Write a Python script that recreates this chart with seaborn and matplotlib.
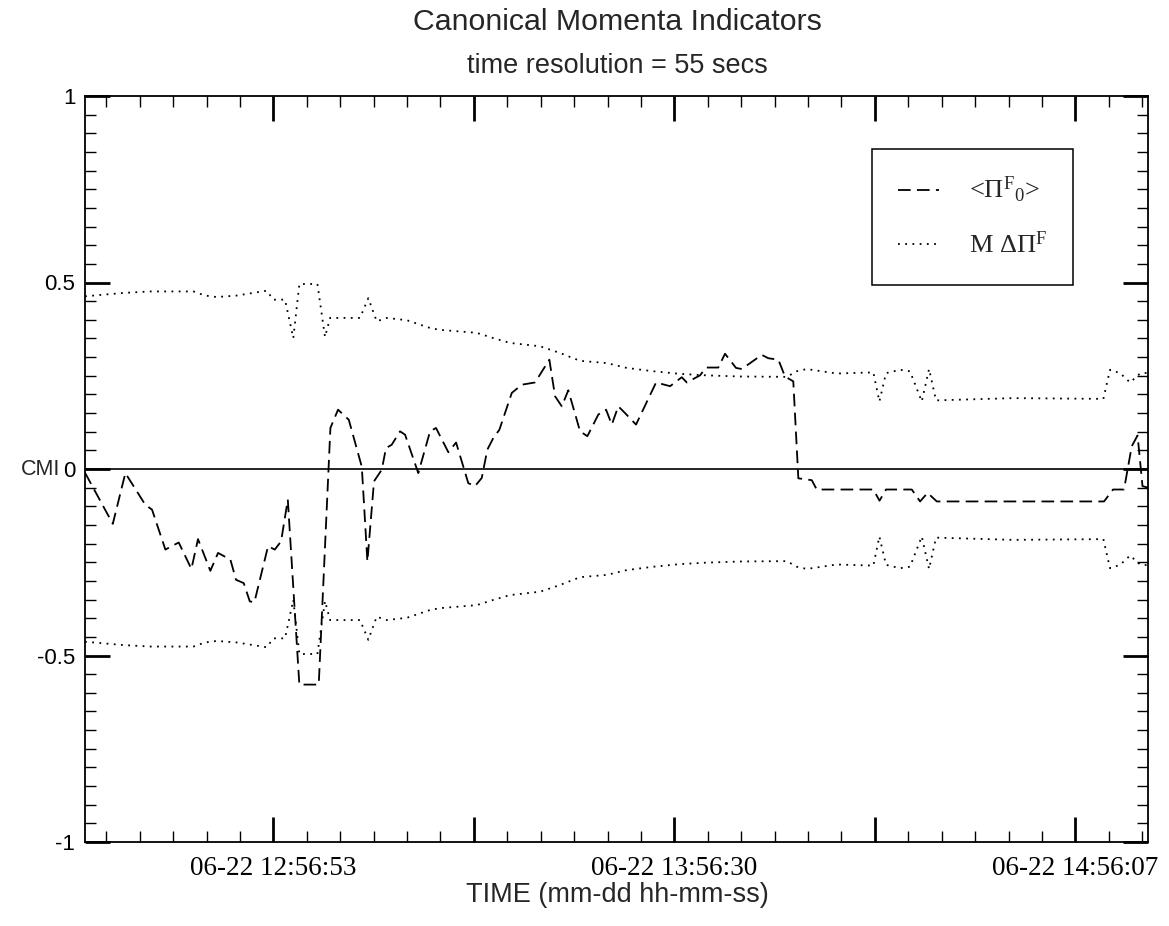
import numpy as np
import pandas as pd
import matplotlib
matplotlib.use("Agg")
import matplotlib.pyplot as plt
import seaborn as sns
from matplotlib.ticker import FixedLocator, FixedFormatter, MultipleLocator

# ---------------- data (time = seconds after 12:00:00 on 06-22) ----------------
cmi_t = [1733, 1981, 2093, 2271, 2331, 2450, 2569, 2682, 2741, 2851, 2920, 3030,
         3080, 3149, 3203, 3244, 3366, 3426, 3482, 3542, 3645, 3818, 3922, 3990,
         4086, 4202, 4252, 4311, 4380, 4418, 4469, 4543, 4588, 4706, 4811, 4864,
         4974, 5043, 5152, 5212, 5272, 5322, 5375, 5429, 5540, 5629, 5747, 5875,
         5926, 5986, 6044, 6149, 6214, 6312, 6381, 6432, 6490, 6550, 6648, 6827,
         6952, 7056, 7101, 7219, 7273, 7382, 7442, 7540, 7591, 7770, 7828, 7918,
         7977, 8051, 8096, 8216, 8260, 8765, 8820, 8878, 9108, 9182, 9249, 9331,
         10823, 10903, 11001, 11070, 11122, 11166, 11215]
cmi_v = [-0.010, -0.147, -0.011, -0.096, -0.109, -0.216, -0.197, -0.268, -0.188,
         -0.273, -0.225, -0.243, -0.297, -0.306, -0.355, -0.357, -0.207, -0.216,
         -0.194, -0.082, -0.578, -0.578, 0.110, 0.159, 0.132, 0.006, -0.248,
         -0.033, -0.002, 0.056, 0.065, 0.101, 0.092, -0.011, 0.101, 0.110, 0.045,
         0.071, -0.038, -0.046, -0.024, 0.052, 0.083, 0.105, 0.204, 0.226, 0.232,
         0.293, 0.195, 0.168, 0.211, 0.101, 0.088, 0.146, 0.159, 0.119, 0.168,
         0.150, 0.119, 0.232, 0.222, 0.246, 0.232, 0.251, 0.272, 0.272, 0.309,
         0.271, 0.268, 0.306, 0.297, 0.293, 0.248, 0.235, -0.025, -0.030, -0.055,
         -0.055, -0.085, -0.055, -0.055, -0.087, -0.064, -0.087, -0.087, -0.055,
         -0.055, 0.061, 0.090, -0.046, -0.050]

mdp_t = [1733, 2075, 2313, 2699, 2804, 2908, 3087, 3354, 3413, 3517, 3591, 3645,
         3806, 3874, 3919, 4186, 4260, 4335, 4425, 4603, 4811, 4900, 5227, 5375,
         5524, 5792, 5970, 6149, 6387, 6565, 6803, 7041, 7279, 7576, 7993, 8082,
         8171, 8439, 8765, 8819, 8878, 9003, 9092, 9197, 9262, 9324, 10011, 10817,
         10876, 10966, 11055, 11144, 11215]
mdp_v = [0.463, 0.472, 0.476, 0.476, 0.465, 0.461, 0.465, 0.478, 0.454, 0.454,
         0.351, 0.496, 0.496, 0.354, 0.405, 0.405, 0.458, 0.396, 0.405, 0.399,
         0.378, 0.373, 0.365, 0.351, 0.338, 0.329, 0.311, 0.290, 0.284, 0.271,
         0.262, 0.255, 0.251, 0.248, 0.247, 0.262, 0.268, 0.256, 0.259, 0.181,
         0.257, 0.266, 0.262, 0.181, 0.268, 0.184, 0.190, 0.188, 0.266, 0.257,
         0.232, 0.256, 0.258]

x_tick_times = [3413, 6990, 10567]
x_tick_labels = ["06-22 12:56:53", "06-22 13:56:30", "06-22 14:56:07"]
y_ticks = [-1, -0.5, 0, 0.5, 1]
y_tick_labels = ["-1", "-0.5", "0", "0.5", "1"]
legend_labels = [r"<$\Pi^{\mathrm{F}}{}_{0}$>", r"M $\Delta\Pi^{\mathrm{F}}$"]
title = "Canonical Momenta Indicators"
subtitle = "time resolution = 55 secs"
x_label = "TIME (mm-dd hh-mm-ss)"
y_label = "CMI"

# ---------------- style ----------------
sns.set_style("ticks")
plt.rcParams["font.family"] = ["Liberation Sans", "DejaVu Sans"]
plt.rcParams["mathtext.fontset"] = "custom"
plt.rcParams["mathtext.rm"] = "Liberation Serif"
plt.rcParams["mathtext.it"] = "Liberation Serif:italic"
plt.rcParams["mathtext.bf"] = "Liberation Serif:bold"

W, H = 1169, 926
fig = plt.figure(figsize=(W / 100, H / 100), dpi=100)
L, R, T, B = 85, 1148, 96, 842
ax = fig.add_axes([L / W, 1 - B / H, (R - L) / W, (B - T) / H])

df_cmi = pd.DataFrame({"t": cmi_t, "v": cmi_v})
df_up = pd.DataFrame({"t": mdp_t, "v": mdp_v})
df_lo = pd.DataFrame({"t": mdp_t, "v": [-v for v in mdp_v]})

ax.axhline(0, color="black", lw=1.2, zorder=1)
sns.lineplot(data=df_cmi, x="t", y="v", ax=ax, color="black", lw=1.3,
             linestyle=(0, (7, 3.5)), estimator=None, sort=False)
sns.lineplot(data=df_up, x="t", y="v", ax=ax, color="black", lw=1.3,
             linestyle=(0, (1, 3)), estimator=None, sort=False)
sns.lineplot(data=df_lo, x="t", y="v", ax=ax, color="black", lw=1.3,
             linestyle=(0, (1, 3)), estimator=None, sort=False)

ax.set_xlim(cmi_t[0], cmi_t[-1])
ax.set_ylim(-1, 1)

# x ticks: labelled majors every 2 tick intervals, plus unlabelled majors between
major_step = (x_tick_times[1] - x_tick_times[0]) / 2
majors = np.arange(x_tick_times[0] - 2 * major_step, cmi_t[-1] + 1, major_step)
majors = majors[(majors >= cmi_t[0]) & (majors <= cmi_t[-1])]
maj_labels = []
for m in majors:
    lab = ""
    for tt, ll in zip(x_tick_times, x_tick_labels):
        if abs(m - tt) < 1:
            lab = ll
    maj_labels.append(lab)
ax.xaxis.set_major_locator(FixedLocator(majors))
ax.xaxis.set_major_formatter(FixedFormatter(maj_labels))
minor_step = major_step / 6
minors = np.arange(x_tick_times[0] - 12 * minor_step, cmi_t[-1] + 1, minor_step)
minors = minors[(minors >= cmi_t[0]) & (minors <= cmi_t[-1])]
ax.xaxis.set_minor_locator(FixedLocator(minors))

ax.yaxis.set_major_locator(FixedLocator(y_ticks))
ax.yaxis.set_major_formatter(FixedFormatter(y_tick_labels))
ax.yaxis.set_minor_locator(MultipleLocator(0.05))

ax.tick_params(which="major", direction="in", length=18, width=2.0,
               top=True, right=True, colors="black")
ax.tick_params(which="minor", direction="in", length=8, width=1.0,
               top=True, right=True, colors="black")
ax.tick_params(axis="y", which="major", labelsize=16, pad=7)
ax.tick_params(axis="x", which="major", labelsize=19.5, pad=10)
for lab in ax.get_xticklabels():
    lab.set_family("Liberation Serif")

for s in ax.spines.values():
    s.set_linewidth(1.3)
    s.set_color("black")

ax.set_xlabel("")
ax.set_ylabel("")

# legend
h = ax.lines
leg = ax.legend([h[1], h[2]], legend_labels, loc="upper left",
                bbox_to_anchor=((872 - L) / (R - L), (B - 149) / (B - T)),
                borderaxespad=0, frameon=True, fancybox=False, framealpha=1,
                edgecolor="black", prop={"family": "Liberation Serif", "size": 19},
                handlelength=1.55, handletextpad=1.12, borderpad=1.0,
                labelspacing=1.0)
leg.get_frame().set_linewidth(1.1)

# texts
fig.text(617 / W, 1 - 22 / H, title, ha="center", va="center", fontsize=21.8)
fig.text(617 / W, 1 - 66 / H, subtitle, ha="center", va="center", fontsize=19.5)
fig.text(617 / W, 1 - 895 / H, x_label, ha="center", va="center", fontsize=19.5)
fig.text(41 / W, 1 - 469 / H, y_label, ha="center", va="center", fontsize=15.5)

fig.savefig("out.png", dpi=100, facecolor="white")
